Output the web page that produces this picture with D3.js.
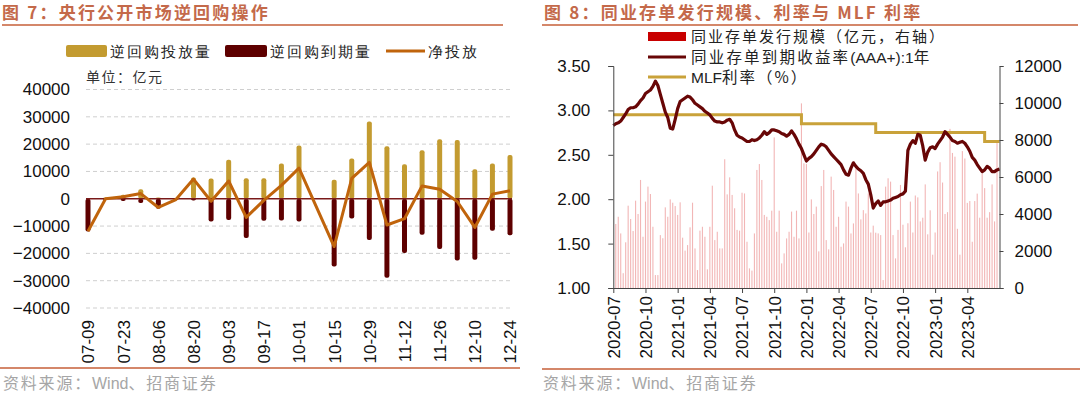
<!DOCTYPE html>
<html>
<head>
<meta charset="utf-8">
<script src="https://cdn.jsdelivr.net/npm/d3@7"></script>
<style>
  body { margin: 0; background: #fff; }
  svg text { font-family: "Liberation Sans", Arial, sans-serif; }
  .cn { font-family: "Noto Sans CJK SC", sans-serif; }
</style>
</head>
<body>
<svg id="chart" width="1080" height="393"></svg>
<script>
// ---- figure 7 data: weekly reverse repo operations (亿元)
const weeks = ["07-09","07-16","07-23","07-30","08-06","08-13","08-20","08-27","09-03","09-10","09-17","09-24",
  "10-01","10-08","10-15","10-22","10-29","11-05","11-12","11-19","11-26","12-03","12-10","12-17","12-24"]
const repoIn = [0,500,1500,3500,500,200,7800,7400,14300,7550,7500,12900,19500,0,7000,14700,28300,19200,12600,17800,21800,21500,10800,12900,16000]
const repoOut = [-12000,-500,-800,-1600,-3700,-500,-600,-8300,-7800,-14400,-8100,-8000,-8300,0,-24800,-7200,-15100,-28900,-19900,-13200,-18400,-22600,-22300,-11700,-13400]
const netInject = [-11900,0,700,1900,-3200,-300,7200,-900,6500,-6800,-600,4900,11200,null,-17500,7500,13300,-9600,-7300,4700,3500,-1000,-10500,1700,2900]
const leftTicks = [40000,30000,20000,10000,0,-10000,-20000,-30000,-40000]

// ---- figure 8 data: weekly index from 2020-07
const quarterLabels = ["2020-07","2020-10","2021-01","2021-04","2021-07","2021-10","2022-01","2022-04","2022-07","2022-10","2023-01","2023-04"]
const weekCount = 156
// 同业存单发行规模 (亿元), weeks 1..155
const ncdIssue = [3460,3850,2950,800,2470,4450,3730,3080,4720,4000,5840,2770,4670,5480,5080,3310,700,700,2860,2690,
  4360,3850,4790,4610,4430,3950,4630,2720,2020,2320,3280,4610,2140,970,3100,3310,2770,1010,3310,5530,
  2590,3040,2140,2140,6960,5060,5980,5030,4310,3140,3100,5150,5110,2500,1060,940,2950,6380,6700,5840,
  3950,3850,3670,4180,8140,3040,4180,1330,1870,2680,3040,4130,2770,4180,2680,9980,6740,6700,3000,4790,
  4000,4400,1980,5510,6380,2590,2090,6020,5300,3310,3850,2230,2410,4670,4400,2950,3490,6470,5110,3710,
  4210,4030,5110,3000,3370,2990,2950,2860,430,5480,5930,5750,2860,1600,3140,5570,3420,2200,3500,4670,
  3000,5000,4900,3600,3800,5600,2900,4200,1800,3000,6300,6800,5700,4000,4100,8600,7300,7100,3200,1800,
  7400,7000,4600,4700,2500,4700,5100,3800,6200,5400,3800,4100,5600,3600,8000]
// 同业存单到期收益率(AAA+):1年, weeks 0..156
const ncdYield = [2.83,2.85,2.86,2.88,2.92,2.96,3.01,3.03,3.03,3.04,3.07,3.11,3.14,3.19,3.21,3.23,3.27,3.33,3.28,3.18,
  3.08,2.98,2.92,2.80,2.79,2.90,3.02,3.10,3.12,3.14,3.16,3.15,3.12,3.08,3.06,3.04,3.02,2.99,2.97,2.95,
  2.91,2.88,2.87,2.87,2.86,2.87,2.89,2.90,2.86,2.78,2.72,2.70,2.69,2.67,2.65,2.65,2.67,2.66,2.67,2.69,
  2.72,2.76,2.73,2.75,2.78,2.78,2.77,2.76,2.74,2.73,2.71,2.73,2.77,2.73,2.68,2.62,2.57,2.50,2.43,2.46,
  2.48,2.51,2.55,2.59,2.62,2.61,2.59,2.55,2.51,2.48,2.45,2.42,2.39,2.33,2.28,2.27,2.35,2.41,2.37,2.34,
  2.32,2.29,2.22,2.17,2.05,1.90,1.95,1.98,1.93,1.97,1.97,1.98,1.99,2.01,2.02,2.03,2.05,2.06,2.09,2.55,
  2.62,2.66,2.63,2.73,2.72,2.60,2.44,2.53,2.58,2.59,2.57,2.62,2.66,2.70,2.76,2.73,2.70,2.66,2.65,2.63,
  2.64,2.65,2.63,2.59,2.54,2.47,2.44,2.39,2.35,2.31,2.33,2.37,2.35,2.31,2.31,2.33,2.34]
// MLF 利率 (%), step changes at these week indexes
const mlfWeek = [0,76,106,150]
const mlfRate = [2.95,2.85,2.75,2.65]
const rateTicks = [1.00,1.50,2.00,2.50,3.00,3.50]
const issueTicks = [0,2000,4000,6000,8000,10000,12000]

const svg = d3.select("#chart")
const titleColor = "#C4694A"
const ruleColor = "#D4876A"

// text made of pieces: CJK pieces get letter spacing, latin pieces don't
function mixedText(sel, x, y, parts, size, color, cjkSpacing) {
  const t = sel.append("text").attr("x", x).attr("y", y)
    .attr("font-size", size).attr("fill", color)
  parts.forEach(p => {
    t.append("tspan").text(p[0])
      .attr("class", p[1] ? "cn" : null)
      .attr("letter-spacing", p[1] ? cjkSpacing : 0)
  })
  return t
}

// ===================== figure 7 =====================
const g7 = svg.append("g")
g7.append("text").classed("cn", true)
  .attr("x", 2).attr("y", 19)
  .attr("font-size", 17).attr("font-weight", "bold").attr("letter-spacing", 2.2)
  .attr("fill", titleColor)
  .text("图 7：央行公开市场逆回购操作")
g7.append("line").attr("x1", 2).attr("x2", 503).attr("y1", 25).attr("y2", 25)
  .attr("stroke", ruleColor).attr("stroke-width", 2)

const x7 = d3.scalePoint().domain(weeks).range([88, 510])
const y7 = d3.scaleLinear().domain([-40000, 40000]).range([308, 89.5])

// grid
g7.append("g").selectAll("line")
  .data(leftTicks.filter(d => d !== 0))
  .join("line")
  .attr("x1", 86).attr("x2", 512)
  .attr("y1", d => y7(d)).attr("y2", d => y7(d))
  .attr("stroke", "#CFCFCF").attr("stroke-dasharray", "4,3")

// y axis labels
const yAx7 = g7.append("g").attr("transform", "translate(72,0)")
  .call(d3.axisLeft(y7).tickValues(leftTicks).tickFormat(d3.format("d")).tickSize(0).tickPadding(2))
yAx7.select(".domain").remove()
yAx7.selectAll("text").attr("font-size", 17).attr("fill", "#111")
  .style("font-family", "'Liberation Sans', Arial, sans-serif")

// bars
const barW = 5
g7.append("g").selectAll("rect")
  .data(weeks.map((w, i) => ({w, v: repoIn[i]})).filter(d => d.v > 0))
  .join("rect")
  .attr("x", d => x7(d.w) - barW / 2).attr("width", barW)
  .attr("y", d => y7(d.v)).attr("height", d => y7(0) - y7(d.v))
  .attr("rx", 2).attr("fill", "#C39B30")
g7.append("g").selectAll("rect")
  .data(weeks.map((w, i) => ({w, v: repoOut[i]})).filter(d => d.v < 0))
  .join("rect")
  .attr("x", d => x7(d.w) - barW / 2).attr("width", barW)
  .attr("y", y7(0)).attr("height", d => y7(d.v) - y7(0))
  .attr("rx", 2).attr("fill", "#5E0000")

// zero line
g7.append("line").attr("x1", 86).attr("x2", 512)
  .attr("y1", y7(0)).attr("y2", y7(0))
  .attr("stroke", "#7A1A1A").attr("stroke-width", 1.5)

// net injection line
const netPts = weeks.map((w, i) => ({w, v: netInject[i]})).filter(d => d.v !== null)
g7.append("path").datum(netPts)
  .attr("fill", "none").attr("stroke", "#C0640C").attr("stroke-width", 3)
  .attr("stroke-linejoin", "round")
  .attr("d", d3.line().x(d => x7(d.w)).y(d => y7(d.v)))

// x labels
const xAx7 = g7.append("g").attr("transform", "translate(0,318)")
  .call(d3.axisBottom(x7).tickValues(weeks.filter((d, i) => i % 2 === 0)).tickSize(0))
xAx7.select(".domain").remove()
xAx7.selectAll("text")
  .attr("font-size", 17).attr("fill", "#111")
  .attr("transform", "rotate(-90)")
  .attr("text-anchor", "end").attr("x", -2).attr("y", 0).attr("dy", "0.35em")
  .style("font-family", "'Liberation Sans', Arial, sans-serif")

// legend
const leg7 = g7.append("g").attr("class", "cn")
leg7.append("rect").attr("x", 66).attr("y", 45).attr("width", 41).attr("height", 12).attr("rx", 2).attr("fill", "#C39B30")
leg7.append("text").attr("x", 110).attr("y", 56.5).text("逆回购投放量")
leg7.append("rect").attr("x", 225).attr("y", 45).attr("width", 42).attr("height", 12).attr("rx", 2).attr("fill", "#5E0000")
leg7.append("text").attr("x", 270).attr("y", 56.5).text("逆回购到期量")
leg7.append("line").attr("x1", 386).attr("x2", 425).attr("y1", 51).attr("y2", 51).attr("stroke", "#C0640C").attr("stroke-width", 3)
leg7.append("text").attr("x", 428).attr("y", 56.5).text("净投放")
leg7.selectAll("text").attr("font-size", 15).attr("letter-spacing", 2).attr("fill", "#222")

g7.append("text").classed("cn", true).attr("x", 86).attr("y", 82)
  .attr("font-size", 14).attr("letter-spacing", 1.5).attr("fill", "#333").text("单位：亿元")

g7.append("line").attr("x1", 0).attr("x2", 520).attr("y1", 368).attr("y2", 368)
  .attr("stroke", ruleColor).attr("stroke-width", 2)
mixedText(g7, 3, 389, [["资料来源：", true], ["Wind", false], ["、招商证券", true]], 16, "#A6A6A6", 1.8)

// ===================== figure 8 =====================
const g8 = svg.append("g")
g8.append("text").classed("cn", true)
  .attr("x", 544).attr("y", 19)
  .attr("font-size", 17).attr("font-weight", "bold").attr("letter-spacing", 2.2)
  .attr("fill", titleColor)
  .text("图 8：同业存单发行规模、利率与 MLF 利率")
g8.append("line").attr("x1", 542).attr("x2", 1078).attr("y1", 25).attr("y2", 25)
  .attr("stroke", ruleColor).attr("stroke-width", 2)

const x8 = d3.scaleLinear().domain([0, weekCount]).range([613.3, 999.5])
const yL = d3.scaleLinear().domain([1, 3.5]).range([288, 66])
const yR = d3.scaleLinear().domain([0, 12000]).range([288, 66])

// issuance bars
g8.append("g").selectAll("rect")
  .data(ncdIssue)
  .join("rect")
  .attr("x", (d, i) => x8(i + 1) - 0.55).attr("width", 1.1)
  .attr("y", d => yR(d)).attr("height", d => yR(0) - yR(d))
  .attr("fill", "#EE9E9E").attr("opacity", 0.75)

// MLF step line
const mlfPts = mlfWeek.map((w, i) => ({w, v: mlfRate[i]}))
mlfPts.push({w: weekCount, v: mlfRate[mlfRate.length - 1]})
g8.append("path").datum(mlfPts)
  .attr("fill", "none").attr("stroke", "#C9A23A").attr("stroke-width", 3)
  .attr("d", d3.line().curve(d3.curveStepAfter).x(d => x8(d.w)).y(d => yL(d.v)))

// yield line
g8.append("path").datum(ncdYield)
  .attr("fill", "none").attr("stroke", "#680606").attr("stroke-width", 3.2)
  .attr("stroke-linejoin", "round")
  .attr("d", d3.line().x((d, i) => x8(i)).y(d => yL(d)))

// axes
const axL = g8.append("g").attr("transform", "translate(613.3,0)")
  .call(d3.axisLeft(yL).tickValues(rateTicks).tickFormat(d3.format(".2f")).tickSize(5).tickPadding(18))
const axR = g8.append("g").attr("transform", "translate(999.5,0)")
  .call(d3.axisRight(yR).tickValues(issueTicks).tickFormat(d3.format("d")).tickSize(4).tickPadding(11))
const axX = g8.append("g").attr("transform", "translate(0,288)")
  .call(d3.axisBottom(x8).tickValues(quarterLabels.map((d, i) => i * 13)).tickFormat((d, i) => quarterLabels[i]).tickSize(5).tickSizeOuter(0))
;[axL, axR, axX].forEach(a => {
  a.selectAll("path, line").attr("stroke", "#444")
  a.selectAll("text").attr("font-size", 17).attr("fill", "#111")
    .style("font-family", "'Liberation Sans', Arial, sans-serif")
})
axX.selectAll("text")
  .attr("transform", "rotate(-90)")
  .attr("text-anchor", "end").attr("x", -8).attr("y", 0).attr("dy", "0.35em")

// legend
const leg8 = g8.append("g")
leg8.append("rect").attr("x", 648).attr("y", 32).attr("width", 38).attr("height", 9).attr("fill", "#C80000")
mixedText(leg8, 691, 42, [["同业存单发行规模（亿元，右轴）", true]], 15, "#222", 2)
leg8.append("line").attr("x1", 648).attr("x2", 686).attr("y1", 57).attr("y2", 57).attr("stroke", "#680606").attr("stroke-width", 3)
mixedText(leg8, 691, 62.5, [["同业存单到期收益率", true], ["(AAA+):1", false], ["年", true]], 15.5, "#222", 2.2)
leg8.append("line").attr("x1", 648).attr("x2", 686).attr("y1", 77).attr("y2", 77).attr("stroke", "#C9A23A").attr("stroke-width", 3)
mixedText(leg8, 691, 83, [["MLF", false], ["利率（%）", true]], 15.5, "#222", 2)

g8.append("line").attr("x1", 542).attr("x2", 1080).attr("y1", 369).attr("y2", 369)
  .attr("stroke", ruleColor).attr("stroke-width", 2)
mixedText(g8, 543, 389, [["资料来源：", true], ["Wind", false], ["、招商证券", true]], 16, "#A6A6A6", 1.8)
</script>
</body>
</html>
